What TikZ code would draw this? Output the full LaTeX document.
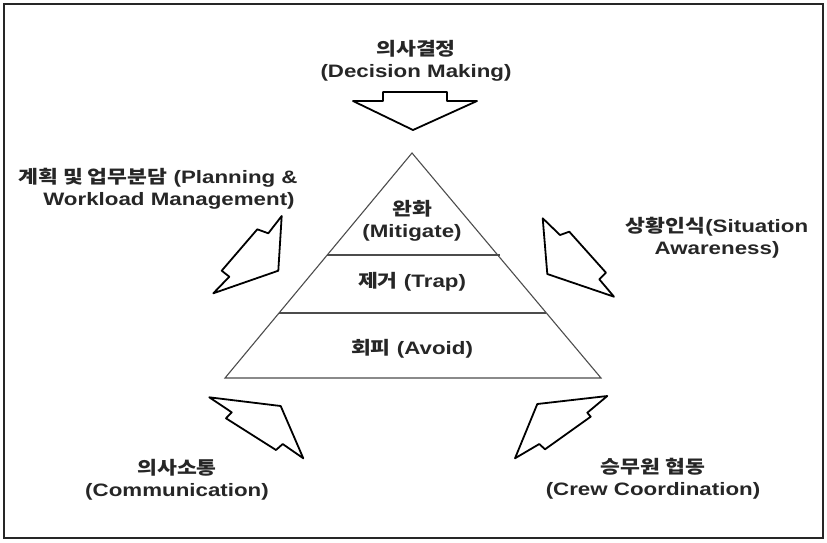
\documentclass[tikz,border=0pt]{standalone}
\usepackage{fontspec}
\setmainfont{Liberation Sans}[FakeStretch=1.24]
\newfontfamily\kor{Noto Sans CJK KR}[FakeStretch=1.2]
\begin{document}
\begin{tikzpicture}[x=1pt,y=-1pt,
  lbl/.style={font=\bfseries\fontsize{18}{22}\selectfont, inner sep=0pt, align=center, text=black!85},
  bolt/.style={draw=black, line width=1.8pt, fill=white, line join=round},
  tier/.style={draw=black!70, line width=1.1pt},
  frame/.style={draw=black!85, line width=2pt}]
\useasboundingbox (0,0) rectangle (827,542);
\draw[frame] (4,4) rectangle (823,538);

% pyramid
\coordinate (apex) at (412,153);
\coordinate (bl) at (225,378);
\coordinate (br) at (601,378);
\coordinate (l1a) at (327,255);
\coordinate (l1b) at (500,255);
\coordinate (l2a) at (279,313);
\coordinate (l2b) at (546,313);
\draw[tier] (apex) -- (bl) -- (br) -- cycle;
\draw[tier] (l1a) -- (l1b);
\draw[tier] (l2a) -- (l2b);

\node[lbl] (mit) at (412,221) {{\kor 완화}\\(Mitigate)};
\node[lbl] (trap) at (412,282) {{\kor 제거} (Trap)};
\node[lbl] (avoid) at (412,349) {{\kor 회피} (Avoid)};

% top arrow
\draw[bolt] (383,92) -- (447,92) -- (447,101) -- (477,101) -- (413,130) -- (353,101) -- (383,101) -- cycle;

% upper-left bolt
\draw[bolt] (281.7,216) -- (268.3,233.3) -- (257.3,229.3) -- (221.7,270.7) -- (229.3,276.7) -- (213.3,293.3) -- (278.3,270.7) -- cycle;

% upper-right bolt
\draw[bolt] (542.7,218.3) -- (560,235) -- (569.3,231.7) -- (606,272.7) -- (599.3,279.3) -- (614,296.7) -- (547.3,274) -- cycle;

% lower-left bolt
\draw[bolt] (209.3,397.3) -- (280.7,406) -- (303.3,458.3) -- (282.7,444) -- (276,450) -- (226,418.3) -- (231.7,412.3) -- cycle;

% lower-right bolt
\draw[bolt] (607.3,396) -- (587.3,412.7) -- (590.7,416.7) -- (545,449.3) -- (539.3,444) -- (515,458.3) -- (537.3,404) -- cycle;

% labels
\node[lbl] (dec) at (416,61) {{\kor 의사결정}\\(Decision Making)};
\node[lbl] (plan1) at (158,178) {{\kor 계획 및 업무분담} (Planning \&};
\node[lbl] (plan2) at (169,201) {Workload Management)};
\node[lbl] (sit) at (717,238) {{\kor 상황인식}(Situation\\Awareness)};
\node[lbl] (com) at (177,480) {{\kor 의사소통}\\(Communication)};
\node[lbl] (crew) at (653,479) {{\kor 승무원 협동}\\(Crew Coordination)};
\end{tikzpicture}
\end{document}
